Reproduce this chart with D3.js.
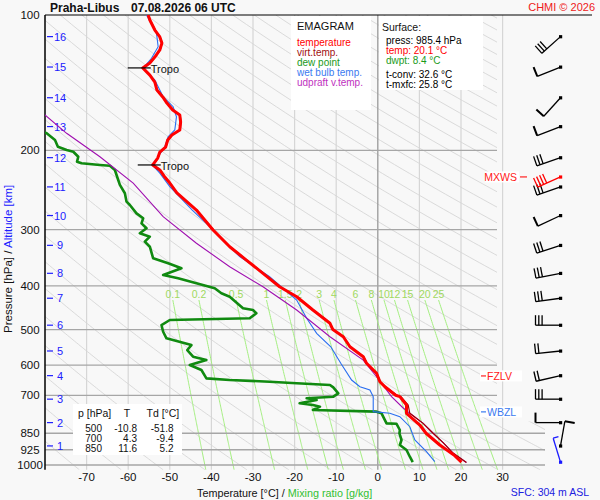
<!DOCTYPE html>
<html><head><meta charset="utf-8">
<script src="https://cdn.jsdelivr.net/npm/d3@7"></script>
<style>
body{margin:0;background:#f8f8f8;}
svg{display:block;font-family:"Liberation Sans",Arial,sans-serif;}
</style>
</head><body>
<svg id="c" width="600" height="500"></svg>
<script>
// ---------------- DATA ----------------
const pressureTicks = [100,200,300,400,500,600,700,850,925,1000];
const tempTicks = [-70,-60,-50,-40,-30,-20,-10,0,10,20,30];
const mixingRatios = [0.1,0.2,0.5,1,1.5,2,3,4,6,8,10,12,15,20,25];
const altKm = [1,2,3,4,5,6,7,8,9,10,11,12,13,14,15,16];
const altP = [907,805,714,633,558,489,426,375,325,279,241,207.5,177,152.7,130.5,111.7];

// [pressure hPa, temperature °C]
const temperature = [[100,-55.2],[102.6,-54.8],[108,-53.6],[111.9,-52.4],[115.4,-51.9],[119.6,-52.4],[124,-53.6],[127.8,-54.8],[131.1,-56.5],[136,-54.8],[140.9,-53.6],[146.8,-53.1],[152.1,-51.7],[156.9,-50.7],[162.6,-49.3],[166.8,-47.6],[172.9,-47.4],[180.1,-47.6],[184.8,-49.5],[189.6,-50.5],[196.5,-51.0],[201.6,-52.4],[207.9,-52.9],[215.4,-54.1],[221,-52.4],[229.1,-51.2],[236.3,-50.0],[248.6,-48.3],[271.3,-43.6],[300.4,-39.6],[327.3,-35.6],[350.4,-31.6],[375,-27.6],[401.7,-23.6],[422.7,-19.5],[452.4,-15.6],[484.3,-11.5],[500,-10.8],[518.7,-8.3],[546,-6.7],[574.6,-3.5],[594.3,-2.7],[625.4,-0.3],[653,0.5],[669.9,1.7],[700,4.3],[705,5.3],[735.6,6.9],[767.6,6.9],[815,10.1],[850,11.6],[902.7,14.9],[950,18.3],[985.4,20.1]];
const virtualTemp = [[100,-55.1],[102.6,-54.7],[108,-53.5],[111.9,-52.3],[115.4,-51.8],[119.6,-52.3],[124,-53.5],[127.8,-54.7],[131.1,-56.4],[136,-54.7],[140.9,-53.5],[146.8,-53.0],[152.1,-51.6],[156.9,-50.6],[162.6,-49.2],[166.8,-47.5],[172.9,-47.3],[180.1,-47.5],[184.8,-49.4],[189.6,-50.4],[196.5,-50.9],[201.6,-52.3],[207.9,-52.8],[215.4,-54.0],[221,-52.3],[229.1,-51.1],[236.3,-49.9],[248.6,-48.2],[271.3,-43.5],[300.4,-39.5],[327.3,-35.5],[350.4,-31.5],[375,-27.5],[401.7,-23.5],[422.7,-19.4],[452.4,-15.5],[484.3,-11.4],[500,-10.7],[518.7,-8.2],[546,-6.6],[574.6,-3.4],[594.3,-2.6],[625.4,-0.2],[653,0.6],[669.9,1.9],[700,4.6],[705,5.6],[735.6,7.3],[767.6,7.7],[808,10.9],[850,13.3],[892,15.7],[941,18.1],[987,21.3]];
const wetBulb = [[100,-55.6],[109.8,-53.2],[117.6,-52.8],[124.8,-54.4],[131.3,-56.4],[139.5,-53.6],[151.9,-51.6],[159.9,-49.2],[168.3,-48.4],[180.1,-48.8],[186.4,-50.4],[196.2,-51.2],[206.5,-52.8],[215.4,-54.2],[224.7,-52.4],[240.7,-50.0],[271.3,-44.6],[295.3,-40.4],[344.4,-33.2],[381.6,-26.0],[429.9,-19.5],[472.1,-17.1],[509.7,-14.7],[546,-11.3],[594.3,-8.9],[647.4,-6.3],[669.9,-4.3],[681.4,-1.9],[705,-1.1],[761.1,-1.1],[767.6,2.9],[780.8,5.3],[822,7.7],[879.9,8.9],[934.1,11.7],[983.3,13.7]];
const dewPoint = [[165,-92],[183.2,-79.6],[189.6,-77.6],[196.2,-76.9],[199.5,-74.8],[201.3,-73.2],[206.5,-72.0],[211.8,-72.3],[213.6,-71.2],[215.4,-66.8],[216.2,-64.4],[221,-63.2],[232.6,-62.4],[238.6,-62.0],[249,-60.8],[259.9,-60.4],[264.4,-59.6],[275.9,-58.0],[283,-56.4],[290.4,-56.8],[297.8,-55.6],[305.5,-57.2],[310.9,-54.8],[319,-56.0],[327.3,-54.8],[347.3,-54.0],[356.3,-50.4],[365.5,-47.2],[378.2,-51.6],[384.7,-48.0],[394.7,-43.6],[404.9,-39.2],[415.4,-37.6],[422.7,-35.6],[448.6,-32.4],[452.4,-30.0],[460.1,-29.2],[472.1,-30.8],[476.2,-50.0],[488.6,-52.0],[505.6,-51.6],[523,-50.8],[541.3,-44.8],[555.3,-45.8],[574.6,-44.4],[584.5,-41.2],[599.6,-45.2],[615.1,-42.4],[641.8,-41.2],[647.4,-35.6],[653,-26.0],[658.4,-19.5],[664.1,-11.5],[672,-10.7],[693,-9.5],[705,-10.7],[710.9,-17.1],[717,-14.7],[729.3,-18.8],[735.6,-15.6],[742,-13.9],[754.6,-15.6],[761.1,-0.3],[767.6,0.9],[808,2.1],[810,4.5],[836,5.3],[850.6,5.2],[879.9,5.7],[902.7,5.3],[926.3,6.9],[958.5,7.7],[985.4,8.4]];
const updraft = [[150,-90],[166.8,-80.0],[183.2,-74.8],[206.5,-66.8],[236.3,-58.8],[280.7,-51.6],[321.6,-43.6],[362.5,-35.6],[401.7,-27.6],[452.4,-19.5],[518.7,-11.5],[584.5,-3.5],[636.7,-0.3],[705,3.3],[747,6.1],[767.6,7.7],[808,10.9],[850,13.3],[892,15.7],[941,18.1],[987,21.3]];

const tropoP = [131.1,215.4];
const tropoT = [-56.5,-54.1];

// wind: pressure, direction (deg), speed (kt)
const windP = [985.4,907,805,714,633,558,489,426,375,325,279,241,207.5,177,152.7,130.5,111.7];
const windDir = [343,10,270,270,257,264,270,262,259,252,245,251,251,249,222,248,228];
const windSpd = [5,10,10,30,20,20,30,30,30,30,10,30,30,10,10,10,30];
const mxwsP = 229, mxwsDir = 246, mxwsSpd = 40;
const fzlvP = 634, wbzlP = 762;

const legendItems = ["temperature","virt.temp.","dew point","wet bulb temp.","udpraft v.temp."];
const legendColors = ["#ff0000","#a01010","#1a9a1a","#3a7af0","#c030c0"];
const surfaceLines = ["press: 985.4 hPa","temp: 20.1 °C","dwpt: 8.4 °C","t-conv: 32.6 °C","t-mxfc: 25.8 °C"];
const surfaceColors = ["#000","#ff0000","#1a9a1a","#000","#000"];
const tableP = [500,700,850];
const tableT = [-10.8,4.3,11.6];
const tableTd = [-51.8,-9.4,5.2];

// ---------------- CHART ----------------
const svg = d3.select("#c");
const x = d3.scaleLinear().domain([-80,30]).range([45,502.6]);
const y = d3.scaleLog().domain([100,1000]).range([15,465]);
const pBot = 1025, yB = y(pBot);

svg.append("rect").attr("width",600).attr("height",500).attr("fill","#f8f8f8");

const defs = svg.append("defs");
defs.append("clipPath").attr("id","plotClip").append("rect")
  .attr("x",x(-80)).attr("y",y(100)).attr("width",547).attr("height",yB-y(100));
defs.append("clipPath").attr("id","gridClip").append("path")
  .attr("d",`M${x(-80)},${y(100)}H497V${y(800)}H545V${yB}H${x(-80)}Z`);

const grid = svg.append("g");
// dry adiabats
const pSamples = d3.range(100,pBot+1,5);
const thetas = d3.range(190,660,10);
const gAd = grid.append("g").attr("clip-path","url(#gridClip)");
thetas.forEach(th=>{
  gAd.append("path").attr("fill","none").attr("stroke","#d6d6d6").attr("stroke-width",0.9)
    .attr("d", d3.line().x(p=>x(th*Math.pow(p/1000,0.2857)-273.15)).y(p=>y(p))(pSamples));
});
// isotherms
tempTicks.forEach(t=>{
  grid.append("line").attr("x1",x(t)).attr("x2",x(t)).attr("y1",y(100)).attr("y2",yB)
    .attr("stroke", t===0 ? "#9a9a9a" : "#d6d6d6").attr("stroke-width", t===0?1.3:1.2);
});
// mixing ratio lines
function tdFromW(w,p){const e=w*p/(622+w); const l=Math.log(e/6.112); return 243.5*l/(17.67-l);}
const mrTop = 430;
const mrP = d3.range(mrTop,pBot+1,5);
const gMr = grid.append("g").attr("clip-path","url(#gridClip)");
mixingRatios.forEach(w=>{
  gMr.append("path").attr("fill","none").attr("stroke","#a4ee80").attr("stroke-width",1)
    .attr("d", d3.line().x(p=>x(tdFromW(w,p))).y(p=>y(p))(mrP));
});
// isobars
pressureTicks.filter(p=>p>100).forEach(p=>{
  grid.append("line").attr("x1",x(-80)).attr("x2", p>=850?545:497).attr("y1",y(p)).attr("y2",y(p))
    .attr("stroke","#a6a6a6").attr("stroke-width",1.3);
});
// mixing ratio labels
grid.selectAll("text.mr").data(mixingRatios).enter().append("text")
  .attr("x",w=>x(tdFromW(w,mrTop))).attr("y",y(mrTop)-6)
  .attr("text-anchor","middle").attr("dominant-baseline","central")
  .attr("font-size",10.5).attr("fill","#a0d860").text(w=>w);

// frame
svg.append("line").attr("x1",x(-80)).attr("x2",592).attr("y1",y(100)).attr("y2",y(100)).attr("stroke","#000").attr("stroke-width",1.2);
svg.append("line").attr("x1",x(-80)).attr("x2",x(-80)).attr("y1",y(100)).attr("y2",yB).attr("stroke","#000").attr("stroke-width",1.5);

// pressure labels
svg.selectAll("text.pl").data(pressureTicks).enter().append("text")
  .attr("x",30).attr("y",p=>y(p)).attr("text-anchor","middle").attr("dominant-baseline","central")
  .attr("font-size",11.5).attr("fill","#111").text(p=>p);
// temperature labels
svg.selectAll("text.tl").data(tempTicks).enter().append("text")
  .attr("x",t=>x(t)).attr("y",477).attr("text-anchor","middle").attr("dominant-baseline","central")
  .attr("font-size",11.5).attr("fill","#111").text(t=>t);
// altitude ticks
altKm.forEach((k,i)=>{
  svg.append("line").attr("x1",47).attr("x2",53).attr("y1",y(altP[i])).attr("y2",y(altP[i])).attr("stroke","#2020ff").attr("stroke-width",1.2);
  svg.append("text").attr("x",60).attr("y",y(altP[i])).attr("text-anchor","middle").attr("dominant-baseline","central")
    .attr("font-size",11).attr("fill","#2020ff").text(k);
});

// curves
const curves = svg.append("g").attr("clip-path","url(#plotClip)");
const ln = d3.line().x(d=>x(d[1])).y(d=>y(d[0]));
curves.append("path").attr("d",ln(dewPoint)).attr("fill","none").attr("stroke","#108a10").attr("stroke-width",2.6).attr("stroke-linejoin","round");
curves.append("path").attr("d",ln(wetBulb)).attr("fill","none").attr("stroke","#2a6ef0").attr("stroke-width",1.1);
curves.append("path").attr("d",ln(updraft)).attr("fill","none").attr("stroke","#a010b0").attr("stroke-width",1.1);
curves.append("path").attr("d",ln(virtualTemp)).attr("fill","none").attr("stroke","#a00000").attr("stroke-width",1.2);
curves.append("path").attr("d",ln(temperature)).attr("fill","none").attr("stroke","#ff0000").attr("stroke-width",3).attr("stroke-linejoin","round");

// tropopause markers
tropoP.forEach((p,i)=>{
  const xx = x(tropoT[i]);
  svg.append("line").attr("x1",xx-15).attr("x2",xx+8).attr("y1",y(p)).attr("y2",y(p)).attr("stroke","#000").attr("stroke-width",1.2);
  svg.append("text").attr("x",xx+8).attr("y",y(p)+1).attr("dominant-baseline","central").attr("font-size",11).attr("fill","#111").text("Tropo");
});

// legend box
svg.append("rect").attr("x",291).attr("y",16).attr("width",80).attr("height",94).attr("fill","#fff");
svg.append("text").attr("x",297).attr("y",26).attr("dominant-baseline","central").attr("font-size",11).attr("fill","#111").text("EMAGRAM");
legendItems.forEach((t,i)=>{
  svg.append("text").attr("x",297).attr("y",42.3+i*10).attr("dominant-baseline","central")
    .attr("font-size",10).attr("fill",legendColors[i]).text(t);
});
// surface box
svg.append("rect").attr("x",379).attr("y",16).attr("width",104).attr("height",74).attr("fill","#fff");
svg.append("text").attr("x",382).attr("y",27.3).attr("dominant-baseline","central").attr("font-size",10.5).attr("fill","#111").text("Surface:");
const sfcY = [40,50,60,74,84.5];
surfaceLines.forEach((t,i)=>{
  svg.append("text").attr("x",386).attr("y",sfcY[i]).attr("dominant-baseline","central")
    .attr("font-size",10).attr("fill",surfaceColors[i]).text(t);
});
// table box
svg.append("rect").attr("x",73).attr("y",404).attr("width",109).attr("height",51).attr("fill","#fff");
const th = svg.append("g").attr("font-size",10).attr("fill","#111");
th.append("text").attr("x",78).attr("y",413.3).attr("dominant-baseline","central").attr("font-size",10.5).text("p [hPa]");
th.append("text").attr("x",127).attr("y",413.3).attr("text-anchor","middle").attr("dominant-baseline","central").attr("font-size",10.5).text("T");
th.append("text").attr("x",146.5).attr("y",413.3).attr("dominant-baseline","central").attr("font-size",10.5).text("Td [°C]");
tableP.forEach((p,i)=>{
  const yy = 428.3+i*10;
  th.append("text").attr("x",102).attr("y",yy).attr("text-anchor","end").attr("dominant-baseline","central").text(p);
  th.append("text").attr("x",137).attr("y",yy).attr("text-anchor","end").attr("dominant-baseline","central").text(tableT[i].toFixed(1));
  th.append("text").attr("x",173.5).attr("y",yy).attr("text-anchor","end").attr("dominant-baseline","central").text(tableTd[i].toFixed(1));
});

// wind barbs
const stationX = 560.5;
function barb(p,dir,spd,color){
  const g = svg.append("g").attr("stroke",color).attr("stroke-width",1.3).attr("fill",color);
  const a = dir*Math.PI/180;
  const sx = Math.sin(a), sy = -Math.cos(a);
  const px = Math.cos(a), py = Math.sin(a);
  const x0 = stationX, y0 = y(p), L = 25;
  g.append("line").attr("x1",x0).attr("y1",y0).attr("x2",x0+L*sx).attr("y2",y0+L*sy);
  g.append("rect").attr("x",x0-1.5).attr("y",y0-1.5).attr("width",3.2).attr("height",3.2).attr("stroke","none");
  let full = Math.floor(spd/10), half = (spd%10)>=5 ? 1:0;
  let d = L;
  for(let i=0;i<full;i++){
    const bx = x0+d*sx, by = y0+d*sy;
    g.append("line").attr("x1",bx).attr("y1",by).attr("x2",bx+10*px).attr("y2",by+10*py)
      .attr("stroke-width", full===1?2:1.3);
    d -= 3.3;
  }
  if(half){
    const bx = x0+d*sx, by = y0+d*sy;
    g.append("line").attr("x1",bx).attr("y1",by).attr("x2",bx+5.5*px).attr("y2",by+5.5*py);
  }
}
windP.forEach((p,i)=>barb(p,windDir[i],windSpd[i], i===0 ? "#1a1aff" : "#000"));
barb(mxwsP,mxwsDir,mxwsSpd,"#ff0000");

// level labels
function levelLabel(p,txt,color,dashLeft){
  const yy = y(p);
  svg.append("rect").attr("x",dashLeft?480:485).attr("y",yy-5.5).attr("width",dashLeft?42:34).attr("height",11).attr("fill","#fff");
  if(dashLeft){
    svg.append("line").attr("x1",481).attr("x2",486).attr("y1",yy).attr("y2",yy).attr("stroke",color).attr("stroke-width",1.2);
    svg.append("text").attr("x",487).attr("y",yy).attr("dominant-baseline","central").attr("font-size",10.5).attr("fill",color).text(txt);
  } else {
    svg.append("text").attr("x",517).attr("y",yy).attr("text-anchor","end").attr("dominant-baseline","central").attr("font-size",10.5).attr("fill",color).text(txt);
    svg.append("line").attr("x1",520).attr("x2",527).attr("y1",yy).attr("y2",yy).attr("stroke",color).attr("stroke-width",1.2);
  }
}
levelLabel(mxwsP,"MXWS","#ff2020",false);
levelLabel(fzlvP,"FZLV","#ff2020",true);
levelLabel(wbzlP,"WBZL","#3a7af0",true);

// titles
svg.append("text").attr("x",50).attr("y",8).attr("dominant-baseline","central").attr("font-size",12).attr("font-weight","bold").attr("fill","#111").text("Praha-Libus");
svg.append("text").attr("x",131).attr("y",8).attr("dominant-baseline","central").attr("font-size",12).attr("font-weight","bold").attr("fill","#111").text("07.08.2026 06 UTC");
svg.append("text").attr("x",595).attr("y",7).attr("text-anchor","end").attr("dominant-baseline","central").attr("font-size",11).attr("fill","#ee2020").text("CHMI © 2026");

const xt = svg.append("text").attr("x",197).attr("y",492.5).attr("dominant-baseline","central").attr("font-size",10.8);
xt.append("tspan").attr("fill","#111").text("Temperature [°C]  /  ");
xt.append("tspan").attr("fill","#33c033").text("Mixing ratio [g/kg]");
svg.append("text").attr("x",589).attr("y",492).attr("text-anchor","end").attr("dominant-baseline","central").attr("font-size",10.5).attr("fill","#2020e0").text("SFC: 304 m ASL");

const yt = svg.append("text").attr("transform","translate(8,333) rotate(-90)").attr("dominant-baseline","central").attr("font-size",11.5);
yt.append("tspan").attr("fill","#111").text("Pressure [hPa]  /  ");
yt.append("tspan").attr("fill","#2020ff").text("Altitude [km]");
</script>
</body></html>
